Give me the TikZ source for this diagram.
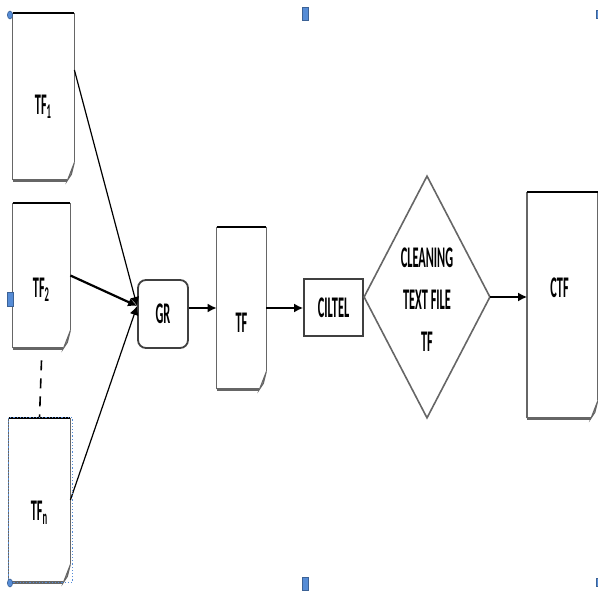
\documentclass[tikz,border=0pt]{standalone}
\usepackage{fontspec}
\setmainfont[FakeStretch=0.41]{Carlito}
\usepackage{tikz}
\usetikzlibrary{arrows.meta}
\definecolor{handleblue}{RGB}{86,140,214}
\tikzstyle{doc}=[rectangle,inner sep=0pt]
\tikzstyle{docedge}=[draw=black!60,line width=0.8pt]
\tikzstyle{docbase}=[draw=black!60,line width=1.6pt]
\tikzstyle{fold}=[fill=black!20,draw=black!60,line width=0.5pt]
\tikzstyle{box}=[rectangle,draw=black!75,line width=0.9pt,inner sep=0pt]
\tikzstyle{link}=[->,line width=0.8pt]
\tikzstyle{handle}=[fill=handleblue,draw=handleblue!70!black,line width=0.3pt]

\begin{document}
\begin{tikzpicture}[x=0.5pt,y=-0.5pt,>={Latex[length=4.5pt,width=4.5pt]},font=\fontsize{15}{16}\selectfont\bfseries]
	\useasboundingbox (0,0) rectangle (598,592);
	
	\node  (tf1)    at (43.5,96.5) [doc,minimum width=30.5pt,minimum height=83.5pt,label={[yshift=-5pt]center:TF\textsubscript{1}}] {};
	\node  (tf2)    at (41.5,275.5) [doc,minimum width=28.5pt,minimum height=72.5pt,label={[yshift=-7pt]center:TF\textsubscript{2}}] {};
	\node  (tfn)    at (39.5,500) [doc,minimum width=30.5pt,minimum height=82pt,label={[yshift=-6.5pt]center:TF\textsubscript{n}}] {};
	\node  (gr)     at (163,314) [box,rounded corners=4pt,minimum width=25pt,minimum height=34pt] {GR\hspace{3pt}};
	\node  (tf)     at (241.5,308) [doc,minimum width=24.5pt,minimum height=81pt,label={[yshift=-7.5pt]center:TF}] {};
	\node  (ciltel) at (333.5,307.5) [box,minimum width=29.5pt,minimum height=28.5pt] {CILTEL\hspace{3pt}};
	\node  (clean)  at (427,297) [rectangle,inner sep=0pt,minimum width=62.5pt,minimum height=120.5pt] {};
	\node  (cltext) at (427,300) [align=center] {CLEANING\\[5pt]TEXT FILE\\[5pt]TF};
	\node  (ctf)    at (562.5,305) [doc,minimum width=35pt,minimum height=113pt,label={[yshift=8.5pt,xshift=-1.5pt]center:CTF}] {};
	
	% page outlines with the turned-down corner
	\foreach \d in {tf1,tf2,tfn,tf,ctf} {
		\draw [docedge] (\d.south west) -- (\d.north west);
		\draw [docedge] ([yshift=9pt]\d.south east) -- (\d.north east);
		\draw [docbase] ([xshift=-3.5pt]\d.south east) -- (\d.south west);
		\draw [black,line width=1pt] (\d.north west) -- (\d.north east);
		\draw [fold] ([yshift=9pt]\d.south east) -- ([shift={(-1.5pt,3pt)}]\d.south east) -- ([xshift=-3.5pt]\d.south east) -- cycle;
	}
	\draw [docedge] (clean.north) -- (clean.east) -- (clean.south) -- (clean.west) -- cycle;
	
	\draw [link,line width=0.6pt] ([yshift=13.25pt]tf1.east) to ([yshift=4pt]gr.west);
	\draw [link,line width=1.1pt] (tf2.east) to ([yshift=4pt]gr.west);
	\draw [link,line width=0.6pt] (tfn.east) to ([yshift=4pt]gr.west);
	\draw [link] (gr.east |- tf.west) to (tf.west);
	\draw [link] (tf.east) to (tf.east -| ciltel.west);
	\draw [link] (clean.east) to (clean.east -| ctf.west);
	\draw [line width=0.8pt,dash pattern=on 5pt off 4pt] ([yshift=-6pt]tf2.south) to (tfn.north);
	
	% selection frame and handles
	\draw [handleblue,densely dotted,line width=0.6pt] (tfn.north west) rectangle ([xshift=1pt]tfn.south east);
	\filldraw [handle] (10,15) ellipse (1.3pt and 2pt);
	\filldraw [handle] (10,583) ellipse (1.3pt and 2pt);
	\filldraw [handle] (302,7) rectangle (308,20);
	\filldraw [handle] (302,577) rectangle (308,590);
	\filldraw [handle] (7,292) rectangle (13,306);
	\filldraw [handle] (596,10) rectangle (600,18);
	\filldraw [handle] (596,578) rectangle (600,586);
	
\end{tikzpicture}
\end{document}
